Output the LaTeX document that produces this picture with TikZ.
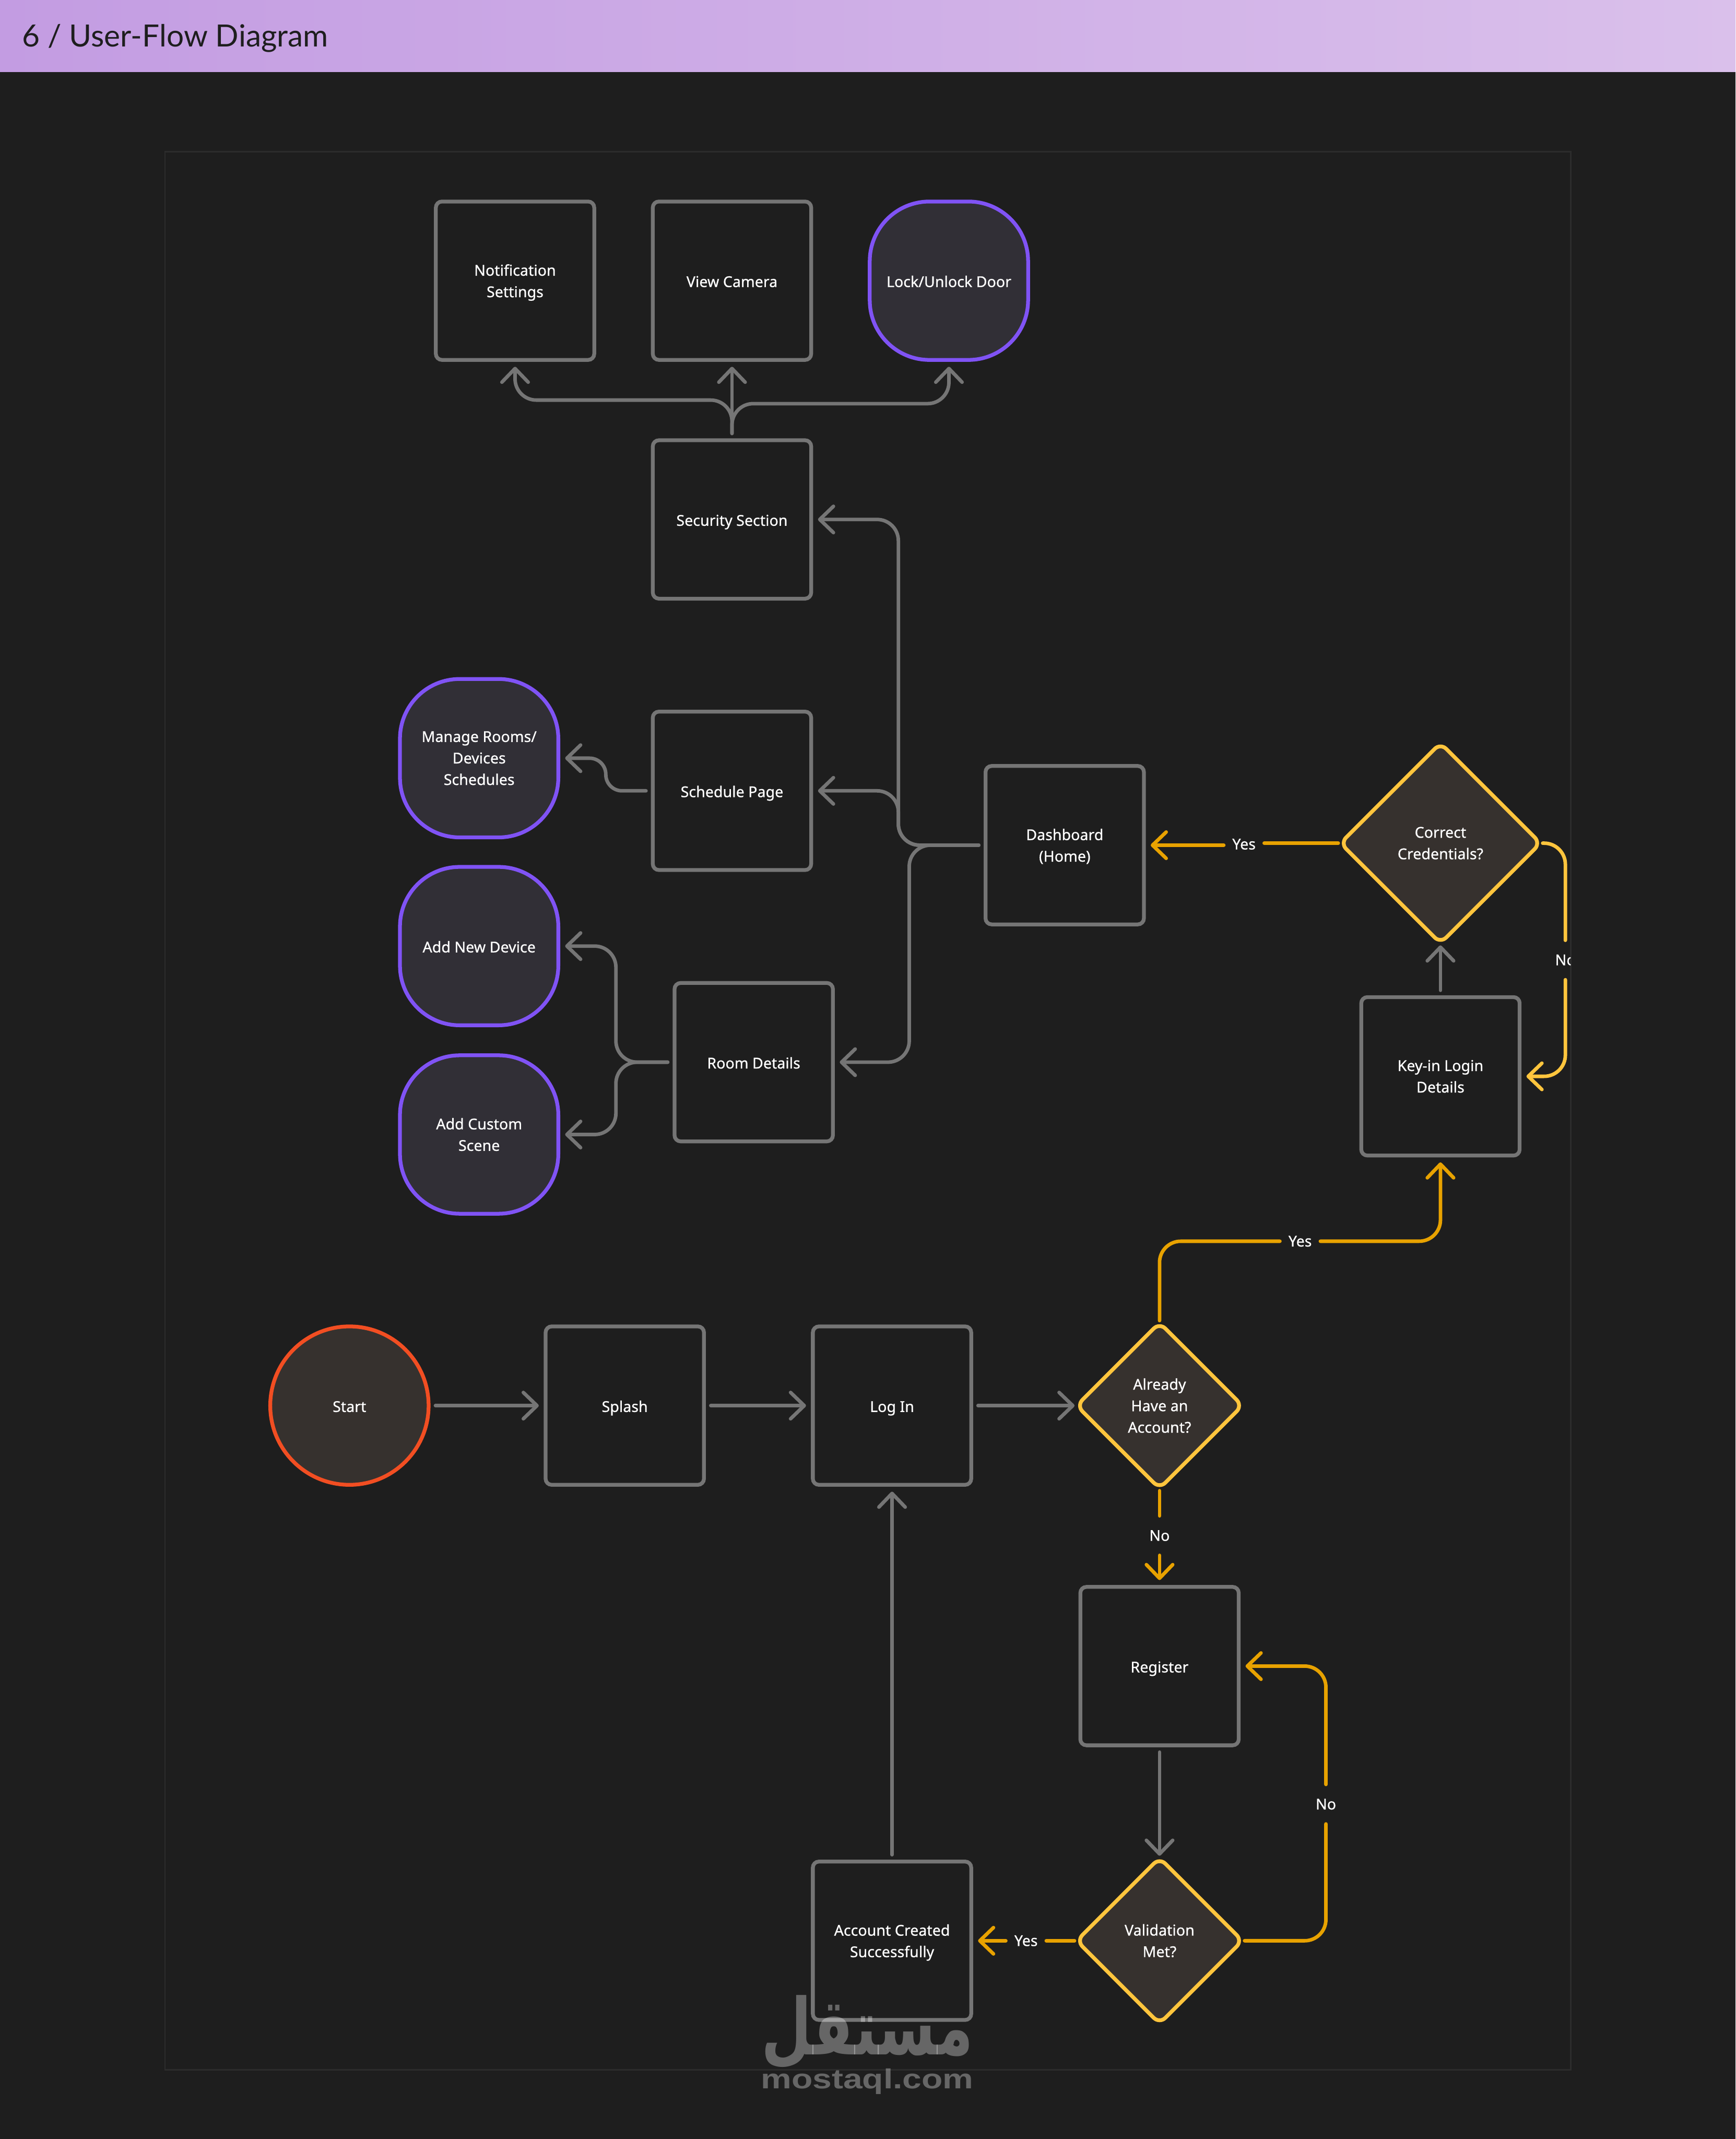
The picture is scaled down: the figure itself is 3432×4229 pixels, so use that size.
\documentclass[tikz,border=0pt]{standalone}
\usepackage{fontspec}
\usetikzlibrary{arrows.meta,shapes.geometric}
\TeXXeTstate=1
\setmainfont{Noto Sans}
\newfontfamily\lblfam[FakeBold=0.7]{Noto Sans}
\newfontfamily\titlefam{Lato}
\newfontfamily\arabicfont[Script=Arabic,FakeStretch=0.74]{DejaVu Sans}
\newfontfamily\wmfam[FakeStretch=1.25]{Liberation Sans}
\newcommand{\lbl}{\lblfam\fontsize{8.4pt}{12.09pt}\selectfont}
\definecolor{bg}{HTML}{1E1E1E}
\definecolor{frameline}{HTML}{2C2C2C}
\definecolor{gline}{HTML}{757575}
\definecolor{purp}{HTML}{8053F5}
\definecolor{purpfill}{HTML}{312F36}
\definecolor{ambl}{HTML}{FFC53D}
\definecolor{ornge}{HTML}{E8A200}
\definecolor{warm}{HTML}{36312E}
\definecolor{redl}{HTML}{F24E22}
\definecolor{headl}{HTML}{C39CE2}
\definecolor{headr}{HTML}{DAC0EB}
\tikzset{
  shp/.style={line width=.075cm, inner sep=0pt, align=center, text=white, font=\lbl},
  oneline/.style={text height=.25cm, text depth=0cm},
  boxn/.style={shp, rectangle, rounded corners=.12cm, draw=gline, fill=bg, minimum size=3.13cm, outer sep=.135cm},
  termn/.style={shp, rectangle, rounded corners=1.18cm, draw=purp, fill=purpfill, minimum size=3.13cm, outer sep=.135cm},
  startn/.style={shp, circle, draw=redl, fill=warm, minimum size=3.13cm, outer sep=.135cm},
  decn/.style={shp, diamond, aspect=1, rounded corners=.16cm, draw=ambl, fill=warm, minimum size=3.3cm, outer sep=.03cm},
  bigdec/.style={decn, minimum size=3.98cm},
  lab/.style={rectangle, inner sep=0pt, outer sep=0pt, minimum width=.8cm, minimum height=.78cm, text=white, font=\lbl},
  conn/.style={line width=.07cm, line cap=round, line join=round, rounded corners=.42cm},
  arr/.style={conn, -{Straight Barb[length=.27cm,width=.52cm,round,line width=.07cm]}},
  plain/.style={conn},
}
\begin{document}
\begin{tikzpicture}[x=.01cm,y=-.01cm]
\useasboundingbox (0,0) rectangle (3432,4229);
\fill[bg] (0,0) rectangle (3432,4229);
\shade[left color=headl,right color=headr] (0,0) rectangle (3432,142);
\node[anchor=base west,inner sep=0pt,text=bg,font=\titlefam\fontsize{17.2pt}{20pt}\selectfont] (title) at (43,92) {6 / User-Flow Diagram};
\draw[frameline,line width=.025cm] (326,300) rectangle (3106,4092);

% nodes
\node[boxn] (notif) at (1018.5,555) {Notification\\\smash{Settings}};
\node[boxn,oneline] (camera) at (1447.5,555) {View Camera};
\node[termn,oneline] (lock) at (1876.5,555) {Lock/Unlock Door};
\node[boxn,oneline] (security) at (1447.5,1027) {Security Section};
\node[termn] (manage) at (947.5,1499) {Manage Rooms/\\Devices\\Schedules};
\node[boxn,oneline] (schedule) at (1447.5,1563.5) {Schedule Page};
\node[boxn] (dash) at (2105.5,1671) {Dashboard\\\smash{(Home)}};
\node[bigdec] (correct) at (2848.5,1667) {Correct\\Credentials?};
\node[termn,oneline] (newdev) at (947.5,1870.5) {Add New Device};
\node[boxn,oneline] (room) at (1490.5,2100) {Room Details};
\node[boxn] (keyin) at (2848.5,2128) {Key-in Login\\Details};
\node[termn] (scene) at (947.5,2243) {Add Custom\\Scene};
\node[startn,oneline] (start) at (691,2779) {Start};
\node[boxn,oneline] (splash) at (1235.5,2779) {Splash};
\node[boxn,oneline] (login) at (1764,2779) {Log In};
\node[decn] (already) at (2293,2779) {Already\\Have an\\Account?};
\node[boxn,oneline] (register) at (2293,3294) {Register};
\node[boxn] (account) at (1764,3837) {Account Created\\\smash{Successfully}};
\node[decn] (valid) at (2293,3837) {Validation\\Met?};

% labels
\node[lab] (yesdash) at (2460,1669) {Yes};
\begin{scope}
  \clip (326,300) rectangle (3106,4092);
  \node[lab] (nokey) at (3095.5,1898) {No};
\end{scope}
\node[lab] (yeskey) at (2571,2454) {Yes};
\node[lab] (noreg) at (2293,3036) {No};
\node[lab] (noval) at (2622,3567) {No};
\node[lab] (yesacc) at (2029,3837) {Yes};

% routing rails
\coordinate (railsec) at (1776.5,0);
\coordinate (railroom) at (1798,0);
\coordinate (railsched) at (1198,0);
\coordinate (raildev) at (1218,0);
\coordinate (railleft) at (0,791);
\coordinate (railright) at (0,798);
\coordinate (railkey) at (0,2454);

% grey connectors
\draw[arr,gline] (security.north) -- (security.north |- railleft) -- (notif.south |- railleft) -- (notif.south);
\draw[arr,gline] (security.north) -- (security.north |- railright) -- (lock.south |- railright) -- (lock.south);
\draw[arr,gline] (security.north) -- (camera.south);
\draw[arr,gline] (dash.west) -- (dash.west -| railsec) -- (security.east -| railsec) -- (security.east);
\draw[arr,gline] (dash.west) -- (dash.west -| railsec) -- (schedule.east -| railsec) -- (schedule.east);
\draw[arr,gline] (dash.west) -- (dash.west -| railroom) -- (room.east -| railroom) -- (room.east);
\draw[arr,gline,rounded corners=.32cm] (schedule.west) -- (schedule.west -| railsched) -- (manage.east -| railsched) -- (manage.east);
\draw[arr,gline] (room.west) -- (room.west -| raildev) -- (newdev.east -| raildev) -- (newdev.east);
\draw[arr,gline] (room.west) -- (room.west -| raildev) -- (scene.east -| raildev) -- (scene.east);
\draw[arr,gline] (keyin.north) -- (correct.south);
\draw[arr,gline] (start.east) -- (splash.west);
\draw[arr,gline] (splash.east) -- (login.west);
\draw[arr,gline] (login.east) -- (already.west);
\draw[arr,gline] (register.south) -- (valid.north);
\draw[arr,gline] (account.north) -- (login.south);

% decision connectors
\draw[plain,ornge] (correct.west) -- (yesdash.east |- correct.west);
\draw[arr,ornge] (yesdash.west |- dash.east) -- (dash.east);
\draw[plain,ambl] (correct.east) -- (correct.east -| nokey.north) -- (nokey.north);
\draw[arr,ambl] (nokey.south) -- (keyin.east -| nokey.south) -- (keyin.east);
\draw[plain,ornge] (already.north) -- (already.north |- railkey) -- (yeskey.west);
\draw[arr,ornge] (yeskey.east) -- (keyin.south |- railkey) -- (keyin.south);
\draw[plain,ornge] (already.south) -- (noreg.north);
\draw[arr,ornge] (noreg.south) -- (register.north);
\draw[plain,ornge] (valid.east) -- (valid.east -| noval.south) -- (noval.south);
\draw[arr,ornge] (noval.north) -- (register.east -| noval.north) -- (register.east);
\draw[plain,ornge] (valid.west) -- (yesacc.east);
\draw[arr,ornge] (yesacc.west) -- (account.east);

% watermark
\node[inner sep=0pt,text=white,text opacity=.32,font=\arabicfont\bfseries\fontsize{44pt}{50pt}\selectfont] (wmar) at (1715,4018) {\beginR مستقل\endR};
\node[inner sep=0pt,text=white,text opacity=.32,anchor=base,font=\wmfam\bfseries\fontsize{15.5pt}{18pt}\selectfont] (wmen) at (1715,4129) {mostaql.com};
\end{tikzpicture}
\end{document}
